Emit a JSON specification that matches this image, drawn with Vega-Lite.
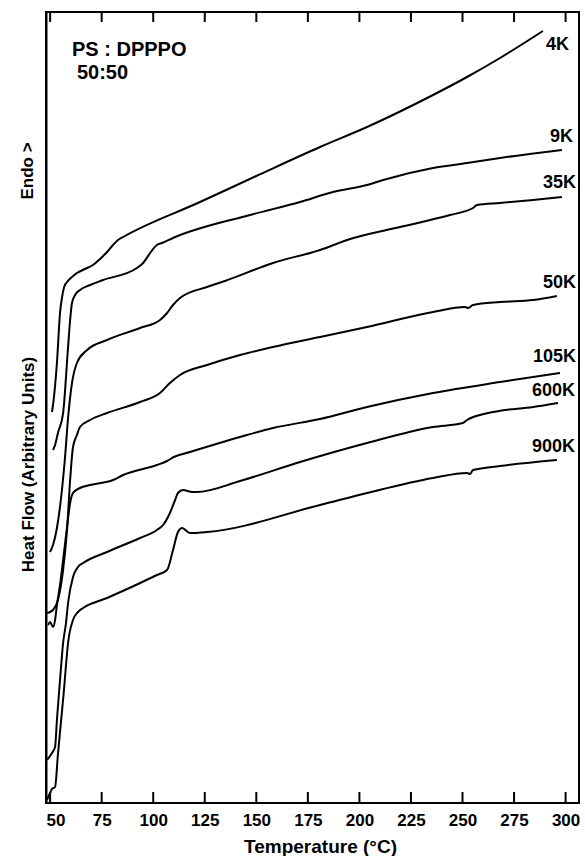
{
  "$schema": "https://vega.github.io/schema/vega-lite/v6.json",
  "autosize": {"type": "none"},
  "width": 533,
  "height": 791,
  "padding": {"left": 46, "top": 12, "right": 6, "bottom": 53},
  "background": "white",
  "config": {"view": {"stroke": "black", "strokeWidth": 2}, "font": "Liberation Sans"},
  "datasets": {
    "curves": [
      {"curve": "4K", "temp": 50.9, "flow": 391}, {"curve": "4K", "temp": 51.4, "flow": 398}, {"curve": "4K", "temp": 53.3, "flow": 440}, {"curve": "4K", "temp": 54.8, "flow": 490}, {"curve": "4K", "temp": 55.8, "flow": 506}, {"curve": "4K", "temp": 56.8, "flow": 516}, {"curve": "4K", "temp": 58.2, "flow": 521}, {"curve": "4K", "temp": 60.6, "flow": 526}, {"curve": "4K", "temp": 63.0, "flow": 530}, {"curve": "4K", "temp": 66.9, "flow": 534}, {"curve": "4K", "temp": 70.8, "flow": 538}, {"curve": "4K", "temp": 74.2, "flow": 544}, {"curve": "4K", "temp": 77.6, "flow": 551}, {"curve": "4K", "temp": 80.5, "flow": 558}, {"curve": "4K", "temp": 82.9, "flow": 563}, {"curve": "4K", "temp": 85.4, "flow": 566}, {"curve": "4K", "temp": 122.7, "flow": 601}, {"curve": "4K", "temp": 150.0, "flow": 627}, {"curve": "4K", "temp": 180.9, "flow": 656}, {"curve": "4K", "temp": 203.7, "flow": 676}, {"curve": "4K", "temp": 235.7, "flow": 708}, {"curve": "4K", "temp": 252.2, "flow": 726}, {"curve": "4K", "temp": 268.2, "flow": 745}, {"curve": "4K", "temp": 289.0, "flow": 772},
      {"curve": "9K", "temp": 51.4, "flow": 353}, {"curve": "9K", "temp": 52.4, "flow": 358}, {"curve": "9K", "temp": 53.8, "flow": 370}, {"curve": "9K", "temp": 56.3, "flow": 390}, {"curve": "9K", "temp": 58.7, "flow": 456}, {"curve": "9K", "temp": 59.7, "flow": 483}, {"curve": "9K", "temp": 60.6, "flow": 500}, {"curve": "9K", "temp": 62.1, "flow": 508}, {"curve": "9K", "temp": 64.5, "flow": 513}, {"curve": "9K", "temp": 69.4, "flow": 518}, {"curve": "9K", "temp": 75.7, "flow": 523}, {"curve": "9K", "temp": 92.1, "flow": 535}, {"curve": "9K", "temp": 95.1, "flow": 540}, {"curve": "9K", "temp": 98.5, "flow": 550}, {"curve": "9K", "temp": 101.8, "flow": 558}, {"curve": "9K", "temp": 104.3, "flow": 560}, {"curve": "9K", "temp": 109.6, "flow": 565}, {"curve": "9K", "temp": 147.0, "flow": 588}, {"curve": "9K", "temp": 171.2, "flow": 601}, {"curve": "9K", "temp": 187.2, "flow": 611}, {"curve": "9K", "temp": 203.7, "flow": 618}, {"curve": "9K", "temp": 211.5, "flow": 623}, {"curve": "9K", "temp": 235.7, "flow": 635}, {"curve": "9K", "temp": 252.2, "flow": 640}, {"curve": "9K", "temp": 268.2, "flow": 645}, {"curve": "9K", "temp": 298.2, "flow": 653},
      {"curve": "35K", "temp": 49.95, "flow": 251}, {"curve": "35K", "temp": 51.4, "flow": 258}, {"curve": "35K", "temp": 53.3, "flow": 275}, {"curve": "35K", "temp": 55.3, "flow": 305}, {"curve": "35K", "temp": 57.2, "flow": 345}, {"curve": "35K", "temp": 58.7, "flow": 385}, {"curve": "35K", "temp": 60.6, "flow": 420}, {"curve": "35K", "temp": 63.0, "flow": 440}, {"curve": "35K", "temp": 67.9, "flow": 453}, {"curve": "35K", "temp": 77.6, "flow": 463}, {"curve": "35K", "temp": 93.6, "flow": 475}, {"curve": "35K", "temp": 103.3, "flow": 483}, {"curve": "35K", "temp": 106.7, "flow": 490}, {"curve": "35K", "temp": 109.6, "flow": 498}, {"curve": "35K", "temp": 113.0, "flow": 505}, {"curve": "35K", "temp": 126.1, "flow": 516}, {"curve": "35K", "temp": 134.8, "flow": 522}, {"curve": "35K", "temp": 158.1, "flow": 540}, {"curve": "35K", "temp": 180.9, "flow": 553}, {"curve": "35K", "temp": 195.5, "flow": 564}, {"curve": "35K", "temp": 219.7, "flow": 576}, {"curve": "35K", "temp": 243.9, "flow": 588}, {"curve": "35K", "temp": 255.1, "flow": 595}, {"curve": "35K", "temp": 257.0, "flow": 598}, {"curve": "35K", "temp": 268.2, "flow": 600}, {"curve": "35K", "temp": 284.2, "flow": 603}, {"curve": "35K", "temp": 298.2, "flow": 606},
      {"curve": "50K", "temp": 48.5, "flow": 190}, {"curve": "50K", "temp": 49.95, "flow": 191}, {"curve": "50K", "temp": 51.4, "flow": 193}, {"curve": "50K", "temp": 53.8, "flow": 203}, {"curve": "50K", "temp": 56.3, "flow": 233}, {"curve": "50K", "temp": 58.2, "flow": 273}, {"curve": "50K", "temp": 59.7, "flow": 323}, {"curve": "50K", "temp": 61.1, "flow": 356}, {"curve": "50K", "temp": 63.0, "flow": 368}, {"curve": "50K", "temp": 64.5, "flow": 376}, {"curve": "50K", "temp": 69.4, "flow": 383}, {"curve": "50K", "temp": 77.6, "flow": 390}, {"curve": "50K", "temp": 93.6, "flow": 401}, {"curve": "50K", "temp": 103.3, "flow": 410}, {"curve": "50K", "temp": 108.1, "flow": 420}, {"curve": "50K", "temp": 113.0, "flow": 428}, {"curve": "50K", "temp": 126.1, "flow": 438}, {"curve": "50K", "temp": 142.1, "flow": 448}, {"curve": "50K", "temp": 158.1, "flow": 456}, {"curve": "50K", "temp": 180.9, "flow": 466}, {"curve": "50K", "temp": 203.7, "flow": 476}, {"curve": "50K", "temp": 235.7, "flow": 491}, {"curve": "50K", "temp": 251.2, "flow": 496}, {"curve": "50K", "temp": 252.7, "flow": 495}, {"curve": "50K", "temp": 255.1, "flow": 498}, {"curve": "50K", "temp": 268.2, "flow": 501}, {"curve": "50K", "temp": 284.2, "flow": 503}, {"curve": "50K", "temp": 295.8, "flow": 507},
      {"curve": "105K", "temp": 49.0, "flow": 178}, {"curve": "105K", "temp": 49.95, "flow": 181}, {"curve": "105K", "temp": 51.4, "flow": 176}, {"curve": "105K", "temp": 52.4, "flow": 183}, {"curve": "105K", "temp": 53.3, "flow": 198}, {"curve": "105K", "temp": 54.8, "flow": 218}, {"curve": "105K", "temp": 56.3, "flow": 243}, {"curve": "105K", "temp": 58.2, "flow": 276}, {"curve": "105K", "temp": 59.7, "flow": 300}, {"curve": "105K", "temp": 61.1, "flow": 310}, {"curve": "105K", "temp": 64.5, "flow": 315}, {"curve": "105K", "temp": 69.4, "flow": 318}, {"curve": "105K", "temp": 80.5, "flow": 323}, {"curve": "105K", "temp": 85.4, "flow": 328}, {"curve": "105K", "temp": 101.8, "flow": 338}, {"curve": "105K", "temp": 106.7, "flow": 342}, {"curve": "105K", "temp": 110.0, "flow": 346}, {"curve": "105K", "temp": 117.8, "flow": 351}, {"curve": "105K", "temp": 142.1, "flow": 366}, {"curve": "105K", "temp": 158.1, "flow": 375}, {"curve": "105K", "temp": 180.9, "flow": 384}, {"curve": "105K", "temp": 203.7, "flow": 396}, {"curve": "105K", "temp": 235.7, "flow": 410}, {"curve": "105K", "temp": 268.2, "flow": 421}, {"curve": "105K", "temp": 297.3, "flow": 430},
      {"curve": "600K", "temp": 48.5, "flow": 43}, {"curve": "600K", "temp": 50.9, "flow": 50}, {"curve": "600K", "temp": 52.4, "flow": 56}, {"curve": "600K", "temp": 53.3, "flow": 83}, {"curve": "600K", "temp": 54.3, "flow": 110}, {"curve": "600K", "temp": 55.3, "flow": 136}, {"curve": "600K", "temp": 56.3, "flow": 160}, {"curve": "600K", "temp": 57.7, "flow": 180}, {"curve": "600K", "temp": 58.7, "flow": 200}, {"curve": "600K", "temp": 61.1, "flow": 226}, {"curve": "600K", "temp": 63.5, "flow": 236}, {"curve": "600K", "temp": 66.0, "flow": 240}, {"curve": "600K", "temp": 77.6, "flow": 251}, {"curve": "600K", "temp": 93.6, "flow": 265}, {"curve": "600K", "temp": 101.8, "flow": 273}, {"curve": "600K", "temp": 104.8, "flow": 278}, {"curve": "600K", "temp": 108.1, "flow": 290}, {"curve": "600K", "temp": 110.6, "flow": 303}, {"curve": "600K", "temp": 112.0, "flow": 310}, {"curve": "600K", "temp": 114.5, "flow": 313}, {"curve": "600K", "temp": 118.9, "flow": 311}, {"curve": "600K", "temp": 121.2, "flow": 311}, {"curve": "600K", "temp": 142.1, "flow": 322}, {"curve": "600K", "temp": 171.2, "flow": 341}, {"curve": "600K", "temp": 203.7, "flow": 360}, {"curve": "600K", "temp": 235.7, "flow": 376}, {"curve": "600K", "temp": 250.2, "flow": 380}, {"curve": "600K", "temp": 252.2, "flow": 383}, {"curve": "600K", "temp": 264.8, "flow": 391}, {"curve": "600K", "temp": 284.2, "flow": 396}, {"curve": "600K", "temp": 296.3, "flow": 400},
      {"curve": "900K", "temp": 48.5, "flow": 3}, {"curve": "900K", "temp": 49.95, "flow": 10}, {"curve": "900K", "temp": 50.9, "flow": 14}, {"curve": "900K", "temp": 52.4, "flow": 16}, {"curve": "900K", "temp": 53.8, "flow": 49}, {"curve": "900K", "temp": 55.3, "flow": 82}, {"curve": "900K", "temp": 56.8, "flow": 115}, {"curve": "900K", "temp": 57.7, "flow": 138}, {"curve": "900K", "temp": 58.7, "flow": 160}, {"curve": "900K", "temp": 61.1, "flow": 183}, {"curve": "900K", "temp": 63.5, "flow": 191}, {"curve": "900K", "temp": 66.0, "flow": 195}, {"curve": "900K", "temp": 77.6, "flow": 205}, {"curve": "900K", "temp": 101.8, "flow": 228}, {"curve": "900K", "temp": 106.7, "flow": 233}, {"curve": "900K", "temp": 109.6, "flow": 253}, {"curve": "900K", "temp": 112.0, "flow": 271}, {"curve": "900K", "temp": 114.0, "flow": 275}, {"curve": "900K", "temp": 117.8, "flow": 270}, {"curve": "900K", "temp": 126.1, "flow": 271}, {"curve": "900K", "temp": 180.9, "flow": 298}, {"curve": "900K", "temp": 203.7, "flow": 310}, {"curve": "900K", "temp": 235.7, "flow": 325}, {"curve": "900K", "temp": 252.2, "flow": 330}, {"curve": "900K", "temp": 253.6, "flow": 329}, {"curve": "900K", "temp": 255.1, "flow": 333}, {"curve": "900K", "temp": 268.2, "flow": 337}, {"curve": "900K", "temp": 295.8, "flow": 343}
    ],
    "labels": [
      {"label": "4K", "temp": 301.7, "flow": 758},
      {"label": "9K", "temp": 303.6, "flow": 666},
      {"label": "35K", "temp": 305.0, "flow": 620},
      {"label": "50K", "temp": 305.0, "flow": 520},
      {"label": "105K", "temp": 305.0, "flow": 446},
      {"label": "600K", "temp": 304.6, "flow": 412},
      {"label": "900K", "temp": 304.6, "flow": 356}
    ],
    "notes": [
      {"note": "PS : DPPPO", "temp": 60.6, "flow": 753},
      {"note": "50:50", "temp": 63.0, "flow": 730}
    ],
    "endo": [
      {"note": "Endo >", "temp": 39.3, "flow": 632}
    ],
    "ticks": [
      {"temp": 50}, {"temp": 75}, {"temp": 100}, {"temp": 125}, {"temp": 150}, {"temp": 175},
      {"temp": 200}, {"temp": 225}, {"temp": 250}, {"temp": 275}, {"temp": 300}
    ]
  },
  "resolve": {"axis": {"x": "independent", "y": "independent"}},
  "layer": [
    {
      "data": {"name": "curves"},
      "mark": {"type": "line", "color": "black", "strokeWidth": 2, "interpolate": "monotone", "clip": true},
      "encoding": {
        "x": {
          "field": "temp", "type": "quantitative",
          "scale": {"domain": [48, 306.5], "nice": false, "zero": false},
          "axis": {
            "orient": "bottom", "values": [50, 75, 100, 125, 150, 175, 200, 225, 250, 275, 300],
            "domain": false, "ticks": false, "grid": false,
            "labelFont": "Liberation Sans", "labelFontWeight": "bold", "labelFontSize": 17, "labelColor": "black",
            "labelPadding": 9, "labelFlush": 5, "labelFlushOffset": 4,
            "title": "Temperature (°C)", "titleFont": "Liberation Sans", "titleFontWeight": "bold", "titleFontSize": 19, "titleColor": "black",
            "titleX": 274, "titleY": 43, "titleAlign": "center", "titleBaseline": "middle"
          }
        },
        "y": {
          "field": "flow", "type": "quantitative",
          "scale": {"domain": [0, 791], "nice": false, "zero": false},
          "axis": {
            "orient": "left", "grid": false, "ticks": false, "labels": false,
            "domainColor": "black", "domainWidth": 2,
            "title": "Heat Flow (Arbitrary Units)", "titleFont": "Liberation Sans", "titleFontWeight": "bold", "titleFontSize": 17, "titleColor": "black",
            "titleAngle": 270, "titleX": -18, "titleY": 452, "titleAlign": "center", "titleBaseline": "middle"
          }
        },
        "detail": {"field": "curve", "type": "nominal"}
      }
    },
    {
      "data": {"name": "ticks"},
      "mark": {"type": "rule", "color": "black", "strokeWidth": 2},
      "encoding": {
        "x": {"field": "temp", "type": "quantitative", "axis": null},
        "y": {"datum": 0, "type": "quantitative", "axis": null},
        "y2": {"datum": 11}
      }
    },
    {
      "data": {"name": "ticks"},
      "mark": {"type": "rule", "color": "black", "strokeWidth": 2},
      "encoding": {
        "x": {"field": "temp", "type": "quantitative", "axis": null},
        "y": {"datum": 781, "type": "quantitative", "axis": null},
        "y2": {"datum": 791}
      }
    },
    {
      "data": {"name": "labels"},
      "mark": {"type": "text", "align": "right", "baseline": "middle", "font": "Liberation Sans", "fontWeight": "bold", "fontSize": 18, "color": "black"},
      "encoding": {
        "x": {"field": "temp", "type": "quantitative", "axis": null},
        "y": {"field": "flow", "type": "quantitative", "axis": null},
        "text": {"field": "label", "type": "nominal"}
      }
    },
    {
      "data": {"name": "notes"},
      "mark": {"type": "text", "align": "left", "baseline": "middle", "font": "Liberation Sans", "fontWeight": "bold", "fontSize": 20, "color": "black"},
      "encoding": {
        "x": {"field": "temp", "type": "quantitative", "axis": null},
        "y": {"field": "flow", "type": "quantitative", "axis": null},
        "text": {"field": "note", "type": "nominal"}
      }
    },
    {
      "data": {"name": "endo"},
      "mark": {"type": "text", "align": "center", "baseline": "middle", "angle": 270, "font": "Liberation Sans", "fontWeight": "bold", "fontSize": 17, "color": "black"},
      "encoding": {
        "x": {"field": "temp", "type": "quantitative", "axis": null},
        "y": {"field": "flow", "type": "quantitative", "axis": null},
        "text": {"field": "note", "type": "nominal"}
      }
    }
  ]
}
